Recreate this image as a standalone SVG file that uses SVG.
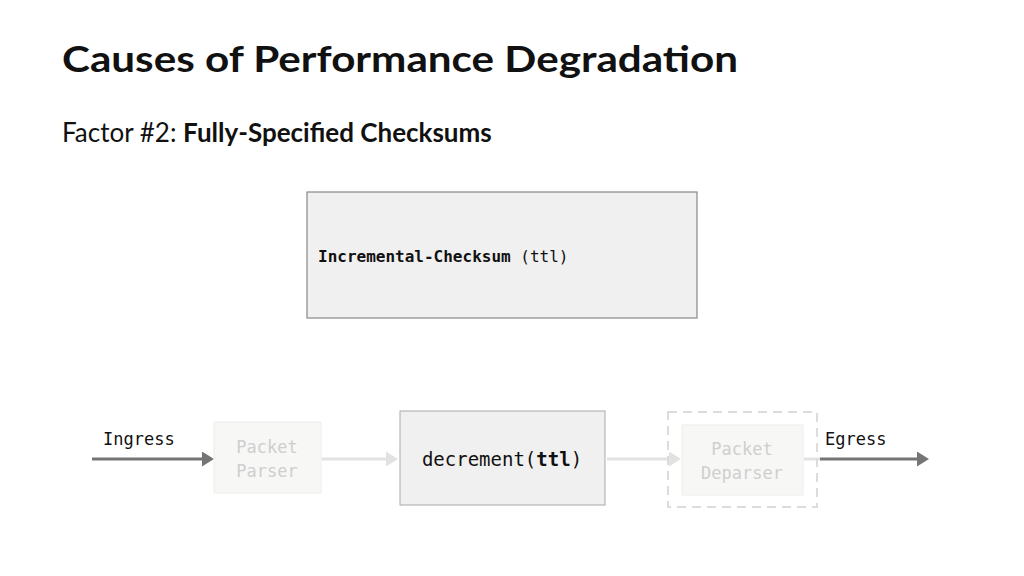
<svg xmlns="http://www.w3.org/2000/svg" width="1024" height="576" viewBox="0 0 1024 576">
<style>
.m{font-family:"DejaVu Sans Mono","Liberation Mono",monospace}
.s{font-family:Lato,"Open Sans",sans-serif}
.faint{fill:#f7f7f5;stroke:#eeeeec;stroke-width:1}
.fl{stroke:#e2e2e2;stroke-width:3;fill:none}
.dl{stroke:#757575;stroke-width:3;fill:none}
</style>
<defs>
<marker id="ad" markerWidth="4" markerHeight="5" refX="3" refY="2.5" orient="auto" markerUnits="strokeWidth"><path d="M0,0L4,2.5L0,5z" fill="#757575"/></marker>
<marker id="af" markerWidth="4" markerHeight="5" refX="3" refY="2.5" orient="auto" markerUnits="strokeWidth"><path d="M0,0L4,2.5L0,5z" fill="#e2e2e2"/></marker>
</defs>
<rect width="1024" height="576" fill="#fff"/>
<text class="s" x="62" y="72" font-size="37" font-weight="bold" fill="#111" textLength="676" lengthAdjust="spacingAndGlyphs">Causes of Performance Degradation</text>
<text class="s" x="62" y="142" font-size="26" fill="#111">Factor #2: <tspan font-weight="bold">Fully-Specified Checksums</tspan></text>
<g id="checksum">
<rect x="307" y="192" width="390" height="126" fill="#f0f0f0" stroke="#888" stroke-width="1.2"/>
<text class="m" x="318" y="262" font-size="16" fill="#111"><tspan font-weight="bold">Incremental-Checksum</tspan> (ttl)</text>
</g>
<g id="connectors">
<line class="dl" x1="92" y1="459" x2="211" y2="459" marker-end="url(#ad)"/>
<line class="fl" x1="322" y1="459" x2="395" y2="459" marker-end="url(#af)"/>
<line class="fl" x1="607" y1="459" x2="678" y2="459" marker-end="url(#af)"/>
<line class="fl" x1="804" y1="459" x2="820" y2="459"/>
<line class="dl" x1="820" y1="459" x2="926" y2="459" marker-end="url(#ad)"/>
</g>
<g id="ingress"><text class="m" x="103" y="445" font-size="17" fill="#111">Ingress</text></g>
<g id="egress"><text class="m" x="825" y="445" font-size="17" fill="#111">Egress</text></g>
<g id="parser">
<rect class="faint" x="214" y="422" width="107" height="71"/>
<text class="m" x="267" y="453" font-size="17" fill="#cfcfcf" text-anchor="middle">Packet</text>
<text class="m" x="267" y="477" font-size="17" fill="#cfcfcf" text-anchor="middle">Parser</text>
</g>
<g id="decrement">
<rect x="400" y="411" width="205" height="94" fill="#f0f0f0" stroke="#aaa" stroke-width="1"/>
<text class="m" x="502" y="466" font-size="19" fill="#111" text-anchor="middle">decrement(<tspan font-weight="bold">ttl</tspan>)</text>
</g>
<g id="deparser">
<rect x="668" y="412" width="149" height="95" fill="none" stroke="#dcdcdc" stroke-width="2" stroke-dasharray="9,6"/>
<rect class="faint" x="682" y="425" width="121" height="70"/>
<text class="m" x="742" y="455" font-size="17" fill="#cfcfcf" text-anchor="middle">Packet</text>
<text class="m" x="742" y="479" font-size="17" fill="#cfcfcf" text-anchor="middle">Deparser</text>
</g>
</svg>
